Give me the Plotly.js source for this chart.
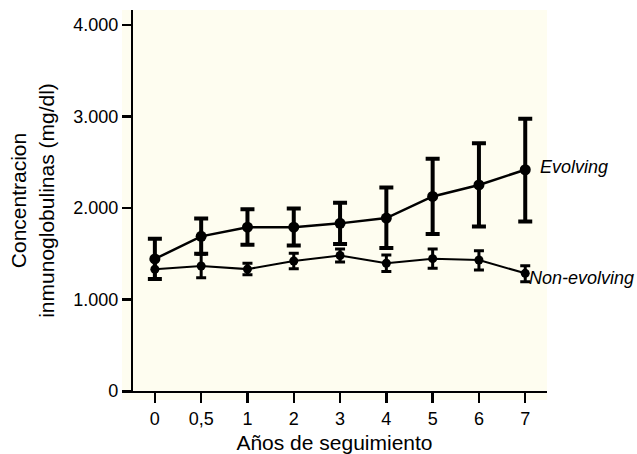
<!DOCTYPE html>
<html>
<head>
<meta charset="utf-8">
<script src="https://cdn.plot.ly/plotly-3.0.1.min.js"></script>
<style>
  html, body { margin: 0; padding: 0; background: #ffffff; }
  #chart { width: 637px; height: 454px; }
</style>
</head>
<body>
<div id="chart"></div>
<script>
// ---- Data ----
const xCategories = ['0', '0,5', '1', '2', '3', '4', '5', '6', '7'];

const evolvingMean  = [1443, 1690, 1790, 1790, 1832, 1890, 2126, 2252, 2418];
const evolvingPlus  = [ 221,  195,  197,  204,  226,  335,  412,  456,  558];
const evolvingMinus = [ 220,  190,  192,  200,  225,  328,  411,  455,  566];

const nonEvolvingMean  = [1330, 1366, 1332, 1421, 1481, 1396, 1446, 1432, 1286];
const nonEvolvingPlus  = [ 108,  128,   64,   84,   71,   91,  106,  101,   84];
const nonEvolvingMinus = [ 106,  128,   62,   85,   71,   91,  105,  110,   92];

const yTickVals = [0, 1000, 2000, 3000, 4000];
const yTickText = ['0', '1.000', '2.000', '3.000', '4.000'];

const seriesLabels = ['Evolving', 'Non-evolving'];

// ---- Chart ----
const FONT = '"Liberation Sans", Arial, Helvetica, sans-serif';

const nonEvolvingTrace = {
  type: 'scatter',
  mode: 'lines+markers',
  name: seriesLabels[1],
  x: xCategories,
  y: nonEvolvingMean,
  line: { color: '#000000', width: 2 },
  marker: { color: '#000000', size: 9, symbol: 'circle' },
  error_y: {
    type: 'data', symmetric: false,
    array: nonEvolvingPlus, arrayminus: nonEvolvingMinus,
    color: '#000000', thickness: 3, width: 5
  },
  cliponaxis: false,
  hoverinfo: 'x+y'
};

const evolvingTrace = {
  type: 'scatter',
  mode: 'lines+markers',
  name: seriesLabels[0],
  x: xCategories,
  y: evolvingMean,
  line: { color: '#000000', width: 2.5 },
  marker: { color: '#000000', size: 11, symbol: 'circle' },
  error_y: {
    type: 'data', symmetric: false,
    array: evolvingPlus, arrayminus: evolvingMinus,
    color: '#000000', thickness: 4, width: 7
  },
  cliponaxis: false,
  hoverinfo: 'x+y'
};

// index of the last category (numeric index so the category axis is not confused by '7')
const last = xCategories.length - 1;

const layout = {
  width: 637,
  height: 454,
  margin: { l: 122, r: 90, t: 10, b: 54, pad: 0 },
  paper_bgcolor: '#ffffff',
  plot_bgcolor: 'rgba(0,0,0,0)',
  showlegend: false,
  font: { family: FONT, color: '#000000', size: 18 },
  shapes: [{
    type: 'rect', xref: 'paper', yref: 'paper',
    x0: 0, x1: 1, y0: 0, y1: 1,
    fillcolor: '#fefdf0', line: { width: 0 }, layer: 'below'
  }],
  xaxis: {
    type: 'category',
    categoryorder: 'array',
    categoryarray: xCategories,
    range: [-0.71, 8.47],
    domain: [0, 1],
    anchor: 'y',
    showgrid: false,
    zeroline: false,
    showline: true,
    linecolor: '#000000',
    linewidth: 2.5,
    ticks: 'outside',
    ticklen: 10,
    tickwidth: 2.5,
    tickcolor: '#000000',
    tickfont: { family: FONT, size: 18, color: '#000000' },
    title: { text: 'Años de seguimiento', font: { family: FONT, size: 21, color: '#000000' }, standoff: 8 }
  },
  yaxis: {
    range: [0, 4164],
    domain: [0.0231, 1],
    anchor: 'free',
    position: 0.0235,
    showgrid: false,
    zeroline: false,
    showline: true,
    linecolor: '#000000',
    linewidth: 2.5,
    ticks: 'outside',
    ticklen: 9,
    tickwidth: 2.5,
    tickcolor: '#000000',
    tickvals: yTickVals,
    ticktext: yTickText,
    tickfont: { family: FONT, size: 18, color: '#000000' },
    title: {
      text: 'Concentracion<br>inmunoglobulinas (mg/dl)',
      font: { family: FONT, size: 21, color: '#000000' },
      standoff: 12
    }
  },
  annotations: [
    {
      xref: 'x', yref: 'y',
      x: last, y: evolvingMean[last],
      text: '<i>' + seriesLabels[0] + '</i>',
      showarrow: false, xanchor: 'left', yanchor: 'middle',
      xshift: 13, yshift: 3,
      font: { family: FONT, size: 18, color: '#000000' }
    },
    {
      xref: 'x', yref: 'y',
      x: last, y: nonEvolvingMean[last],
      text: '<i>' + seriesLabels[1] + '</i>',
      showarrow: false, xanchor: 'left', yanchor: 'middle',
      xshift: 2, yshift: -5,
      font: { family: FONT, size: 18, color: '#000000' }
    }
  ]
};

Plotly.newPlot('chart', [nonEvolvingTrace, evolvingTrace], layout, { displayModeBar: false, staticPlot: true });
</script>
</body>
</html>
